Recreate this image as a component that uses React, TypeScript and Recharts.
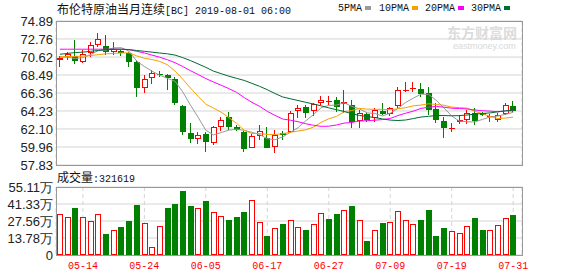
import React from "react";
import { Bar, BarChart, CartesianGrid, ComposedChart, Line, XAxis, YAxis } from "recharts";

const dates = [
  "05-09", "05-10", "05-13", "05-14", "05-15", "05-16", "05-17", "05-20", "05-21", "05-22",
  "05-23", "05-24", "05-27", "05-28", "05-29", "05-30", "05-31", "06-03", "06-04", "06-05",
  "06-06", "06-07", "06-10", "06-11", "06-12", "06-13", "06-14", "06-17", "06-18", "06-19",
  "06-20", "06-21", "06-24", "06-25", "06-26", "06-27", "06-28", "07-01", "07-02", "07-03",
  "07-04", "07-05", "07-08", "07-09", "07-10", "07-11", "07-12", "07-15", "07-16", "07-17",
  "07-18", "07-19", "07-22", "07-23", "07-24", "07-25", "07-26", "07-29", "07-30", "07-31",
];

const opens = [
  70.3, 70.66, 70.78, 70.07, 71.06, 72.08, 71.95, 71.25, 71.3, 71.06,
  70.07, 66.92, 68.1, 68.62, 68.49, 67.98, 64.86, 61.59, 60.91, 61.46,
  60.4, 62.37, 63.55, 62.3, 61.78, 59.88, 61.3, 60.99, 60.0, 61.6,
  61.78, 64.23, 64.74, 64.23, 65.14, 65.3, 65.53, 65.1, 64.94, 63.04,
  63.83, 63.43, 64.23, 63.84, 64.82, 66.68, 66.88, 66.83, 66.32, 64.47,
  63.04, 62.15, 62.96, 63.16, 63.95, 63.95, 63.6, 63.16, 63.84, 64.82,
];
const highs = [
  70.75, 71.18, 72.64, 71.45, 72.37, 73.43, 73.23, 72.45, 71.45, 71.25,
  70.27, 68.49, 69.09, 68.97, 68.61, 68.29, 64.94, 62.77, 61.78, 61.78,
  62.5, 63.55, 64.14, 62.6, 61.85, 61.5, 62.57, 62.37, 61.98, 61.8,
  64.2, 64.94, 64.94, 65.14, 66.0, 66.0, 65.92, 66.71, 65.53, 64.34,
  64.06, 64.55, 65.14, 64.7, 67.11, 67.63, 67.63, 67.51, 67.11, 65.14,
  63.55, 62.77, 63.75, 64.34, 64.55, 64.1, 63.84, 63.95, 65.14, 65.4,
];
const lows = [
  69.48, 70.27, 69.85, 69.88, 70.66, 71.85, 70.86, 70.86, 70.8, 69.48,
  65.92, 66.32, 67.39, 68.29, 66.71, 64.94, 61.38, 60.4, 60.28, 59.41,
  60.2, 61.85, 61.98, 61.9, 59.41, 59.8, 60.8, 59.8, 59.2, 60.8,
  61.6, 63.36, 63.43, 63.67, 64.94, 64.9, 64.14, 63.95, 62.25, 62.18,
  62.98, 62.96, 63.75, 63.6, 64.55, 66.5, 66.52, 65.92, 63.75, 62.77,
  60.99, 61.7, 62.65, 62.65, 62.57, 63.6, 62.96, 62.89, 63.75, 64.14,
];
const closes = [
  70.45, 70.94, 70.19, 70.94, 72.05, 72.76, 71.25, 71.54, 71.06, 69.98,
  66.92, 68.02, 68.77, 68.6, 68.17, 65.14, 61.78, 60.91, 61.38, 60.52,
  62.37, 63.16, 62.37, 62.0, 59.73, 61.27, 61.85, 59.88, 61.38, 61.4,
  64.03, 64.55, 63.95, 65.02, 65.5, 65.45, 64.74, 65.3, 62.89, 63.95,
  63.16, 64.34, 63.84, 64.55, 66.71, 66.72, 66.92, 66.24, 64.34, 63.16,
  62.25, 62.2, 63.2, 63.95, 63.04, 63.75, 63.68, 63.75, 64.94, 64.23,
];

const ma5 = [
  70.6, 70.6, 70.45, 70.55, 70.91, 71.38, 71.44, 71.71, 71.73, 71.32,
  70.15, 69.5, 68.95, 68.46, 68.1, 67.74, 66.49, 64.92, 63.48, 61.95,
  61.39, 61.67, 61.96, 62.08, 61.93, 61.71, 61.44, 60.95, 60.82, 61.16,
  61.71, 62.25, 63.06, 63.79, 64.61, 64.89, 64.93, 65.2, 64.78, 64.47,
  64.01, 63.93, 63.64, 63.97, 64.52, 65.23, 65.75, 66.23, 66.19, 65.48,
  64.58, 63.64, 63.03, 62.95, 62.93, 63.23, 63.52, 63.63, 63.83, 64.07,
];
const ma10 = [
  70.65, 70.68, 70.7, 70.72, 70.8, 70.9, 71.0, 71.05, 71.1, 71.12,
  70.76, 70.47, 70.33, 70.1, 69.71, 68.95, 68.0, 66.94, 65.97, 65.02,
  64.57, 64.08, 63.44, 62.78, 61.94, 61.55, 61.56, 61.45, 61.45, 61.54,
  61.71, 61.85, 62.0, 62.31, 62.88, 63.3, 63.59, 64.13, 64.28, 64.54,
  64.45, 64.43, 64.42, 64.37, 64.49, 64.62, 64.84, 64.93, 65.08, 65.0,
  64.91, 64.69, 64.63, 64.57, 64.2, 63.91, 63.58, 63.33, 63.39, 63.5,
];
const ma20 = [
  71.55, 71.55, 71.55, 71.55, 71.55, 71.55, 71.55, 71.55, 71.55, 71.5,
  71.3, 71.1, 70.85, 70.6, 70.3, 69.95, 69.5, 69.0, 68.55, 68.07,
  67.66, 67.28, 66.88, 66.44, 65.82, 65.25, 64.78, 64.19, 63.71, 63.28,
  63.14, 62.96, 62.72, 62.54, 62.41, 62.43, 62.57, 62.79, 62.87, 63.04,
  63.08, 63.14, 63.21, 63.34, 63.69, 63.96, 64.21, 64.53, 64.68, 64.77,
  64.68, 64.56, 64.52, 64.47, 64.35, 64.26, 64.21, 64.13, 64.23, 64.25,
];
const ma30 = [
  70.95, 71.05, 71.15, 71.2, 71.3, 71.4, 71.5, 71.55, 71.55, 71.5,
  71.4, 71.3, 71.2, 71.1, 71.0, 70.85, 70.55, 70.2, 69.8, 69.4,
  68.95, 68.65, 68.35, 68.1, 67.85, 67.5, 67.15, 66.75, 66.3, 65.89,
  65.68, 65.47, 65.26, 65.06, 64.84, 64.6, 64.38, 64.17, 63.9, 63.7,
  63.57, 63.45, 63.29, 63.15, 63.1, 63.16, 63.33, 63.51, 63.6, 63.69,
  63.69, 63.66, 63.68, 63.75, 63.86, 63.94, 64.0, 64.13, 64.25, 64.35,
];

// volume in 万
const volumes = [
  33.2, 30.5, 38.1, 30.5, 27.3, 33.2, 17.0, 20.0, 22.7, 27.6,
  40.5, 25.9, 6.2, 23.5, 38.1, 41.3, 51.9, 39.7, 37.8, 43.8,
  34.8, 31.3, 28.4, 30.8, 34.8, 44.3, 26.7, 15.4, 21.6, 25.4,
  28.1, 22.4, 20.3, 25.1, 34.0, 29.2, 33.5, 36.5, 39.7, 28.1,
  11.6, 20.3, 25.9, 26.7, 35.7, 28.1, 25.1, 28.4, 36.5, 15.4,
  21.9, 19.5, 17.8, 23.3, 30.0, 20.3, 20.3, 24.1, 30.0, 32.16,
];
const volumeSides = "RRGRRRGRGGGRRRGGGGRGRRGGGRRGRGRRGRRGGRGRGRGRRRRGGGGRRRGGRRRG";

const priceTicks = [57.83, 59.96, 62.1, 64.23, 66.36, 68.49, 70.62, 72.76, 74.89];
const volTicks = [0, 13.78, 27.56, 41.33, 55.11];
const labelDates = ["05-14", "05-24", "06-05", "06-17", "06-27", "07-09", "07-19", "07-31"];

const RED = "#ff0000";
const GREEN = "#008000";
const GRID = "#d4d4d4";
const BORDER = "#999999";

const rows = dates.map((date, i) => ({
  date,
  open: opens[i],
  high: highs[i],
  low: lows[i],
  close: closes[i],
  range: [lows[i], highs[i]],
  ma5: ma5[i],
  ma10: ma10[i],
  ma20: ma20[i],
  ma30: ma30[i],
  vol: volumes[i],
  volUp: volumeSides[i] === "R",
}));

function Candle(props: any) {
  const { x, y, width, height, payload } = props;
  if (x == null || !payload) return null;
  const { open, close, high, low } = payload;
  const topPx = Math.min(y, y + height);
  const botPx = Math.max(y, y + height);
  const k = high > low ? (botPx - topPx) / (high - low) : 0;
  const py = (v: number) => topPx + (high - v) * k;
  const cx = Math.floor(x + width / 2) + 0.5;
  const up = close >= open;
  const color = up ? RED : GREEN;
  const bTop = Math.round(py(Math.max(open, close)));
  const bBot = Math.round(py(Math.min(open, close)));
  const hi = Math.round(py(high));
  const lo = Math.round(py(low));

  if (bBot - bTop < 2) {
    return (
      <g shapeRendering="crispEdges">
        <line x1={cx} x2={cx} y1={hi} y2={lo} stroke={color} />
        <line x1={cx - 3} x2={cx + 3} y1={bTop + 0.5} y2={bTop + 0.5} stroke={color} />
      </g>
    );
  }
  if (up) {
    return (
      <g shapeRendering="crispEdges">
        <line x1={cx} x2={cx} y1={hi} y2={bTop} stroke={color} />
        <line x1={cx} x2={cx} y1={bBot} y2={lo} stroke={color} />
        <rect x={cx - 2.5} y={bTop + 0.5} width={5} height={bBot - bTop - 1} fill="#fff" stroke={color} />
      </g>
    );
  }
  return (
    <g shapeRendering="crispEdges">
      <line x1={cx} x2={cx} y1={hi} y2={lo} stroke={color} />
      <rect x={cx - 3} y={bTop} width={6} height={bBot - bTop} fill={color} />
    </g>
  );
}

function VolumeBar(props: any) {
  const { x, y, width, height, payload } = props;
  if (x == null || !payload) return null;
  const left = Math.floor(x + width / 2) - 2;
  const top = Math.round(y);
  const h = Math.round(y + height) - top;
  if (payload.volUp) {
    return (
      <rect x={left + 0.5} y={top + 0.5} width={5} height={h - 1} fill="#fff" stroke={RED} shapeRendering="crispEdges" />
    );
  }
  return <rect x={left} y={top} width={6} height={h} fill={GREEN} shapeRendering="crispEdges" />;
}

const tickFont = { fontSize: 13, fill: "#222", fontFamily: "'Liberation Sans', Arial, sans-serif" };
const mono = "'Liberation Mono', 'DejaVu Sans Mono', monospace";
const cjk = "'Noto Sans CJK SC', sans-serif";

const legend = [
  { name: "5PMA", color: "#999999", x: 338 },
  { name: "10PMA", color: "#f5a000", x: 379 },
  { name: "20PMA", color: "#ff00ff", x: 425 },
  { name: "30PMA", color: "#006b33", x: 471 },
];

export default function App() {
  return (
    <div style={{ position: "relative", width: 578, height: 276, background: "#fff", overflow: "hidden" }}>
      <style>{"body{margin:0}"}</style>

      <div style={{ position: "absolute", left: 57, top: 2, height: 14, lineHeight: "14px", whiteSpace: "nowrap", color: "#111" }}>
        <span style={{ fontFamily: cjk, fontSize: 12 }}>布伦特原油当月连续</span>
        <span style={{ fontFamily: mono, fontSize: 10 }}>[BC] 2019-08-01 06:00</span>
      </div>

      {legend.map((l) => (
        <div key={l.name} style={{ position: "absolute", left: l.x, top: 2, lineHeight: "14px", whiteSpace: "nowrap", fontFamily: mono, fontSize: 10, color: "#111" }}>
          {l.name}
          <span style={{ display: "inline-block", width: 6, height: 4, background: l.color, marginLeft: 3, verticalAlign: "middle" }} />
        </div>
      ))}

      <div style={{ position: "absolute", left: 447, top: 24, height: 16, lineHeight: "16px", color: "#dcdcdc", fontFamily: cjk, fontSize: 14, fontWeight: 700, whiteSpace: "nowrap" }}>
        东方财富网
      </div>
      <div style={{ position: "absolute", left: 453, top: 41, height: 10, lineHeight: "10px", color: "#d8d8d8", fontFamily: "'Liberation Sans', Arial, sans-serif", fontSize: 9, whiteSpace: "nowrap" }}>
        eastmoney.com
      </div>

      <div style={{ position: "absolute", left: 0, top: 0 }}>
        <ComposedChart width={578} height={172} data={rows} margin={{ top: 21, right: 56, bottom: 7, left: 0 }}>
          <CartesianGrid vertical={false} stroke={GRID} />
          <CartesianGrid horizontal={false} stroke={GRID} strokeDasharray="4 3" />
          <XAxis
            dataKey="date"
            ticks={labelDates}
            interval={0}
            height={0}
            tick={false}
            axisLine={false}
            tickLine={false}
            padding={{ left: 0, right: 5 }}
          />
          <YAxis
            domain={[57.83, 74.89]}
            ticks={priceTicks}
            interval={0}
            allowDataOverflow
            width={56}
            axisLine={false}
            tickLine={false}
            tickSize={0}
            tickMargin={3}
            tick={tickFont}
            tickFormatter={(v: number) => v.toFixed(2)}
          />
          <Bar dataKey="range" barSize={5} shape={<Candle />} isAnimationActive={false} />
          <Line dataKey="ma5" stroke="#999999" dot={false} strokeWidth={1} isAnimationActive={false} type="linear" />
          <Line dataKey="ma10" stroke="#f5a000" dot={false} strokeWidth={1} isAnimationActive={false} type="linear" />
          <Line dataKey="ma20" stroke="#ff00ff" dot={false} strokeWidth={1} isAnimationActive={false} type="linear" />
          <Line dataKey="ma30" stroke="#006b33" dot={false} strokeWidth={1} isAnimationActive={false} type="linear" />
        </ComposedChart>
      </div>
      <div style={{ position: "absolute", left: 56, top: 21, width: 467, height: 145, boxSizing: "border-box", border: `1px solid ${BORDER}`, pointerEvents: "none" }} />

      <div style={{ position: "absolute", left: 57, top: 170, lineHeight: "14px", whiteSpace: "nowrap", color: "#111" }}>
        <span style={{ fontFamily: cjk, fontSize: 12 }}>成交量</span>
        <span style={{ fontFamily: mono, fontSize: 10 }}>:321619</span>
      </div>

      <div style={{ position: "absolute", left: 0, top: 180 }}>
        <BarChart width={578} height={96} data={rows} margin={{ top: 7, right: 56, bottom: 0, left: 0 }}>
          <CartesianGrid vertical={false} stroke={GRID} />
          <CartesianGrid horizontal={false} stroke={GRID} strokeDasharray="4 3" />
          <XAxis
            dataKey="date"
            ticks={labelDates}
            interval={0}
            height={21}
            axisLine={false}
            tickLine={false}
            tickSize={0}
            tickMargin={7}
            tick={{ fontSize: 10, fill: RED, fontFamily: mono }}
            padding={{ left: 0, right: 5 }}
          />
          <YAxis
            domain={[0, 55.11]}
            ticks={volTicks}
            interval={0}
            allowDataOverflow
            width={56}
            axisLine={false}
            tickLine={false}
            tickSize={0}
            tickMargin={3}
            tick={tickFont}
            tickFormatter={(v: number) => (v === 0 ? "0" : `${v.toFixed(2)}万`)}
          />
          <Bar dataKey="vol" barSize={5} shape={<VolumeBar />} isAnimationActive={false} />
        </BarChart>
      </div>
      <div style={{ position: "absolute", left: 56, top: 187, width: 467, height: 69, boxSizing: "border-box", border: `1px solid ${BORDER}`, pointerEvents: "none" }} />
    </div>
  );
}
